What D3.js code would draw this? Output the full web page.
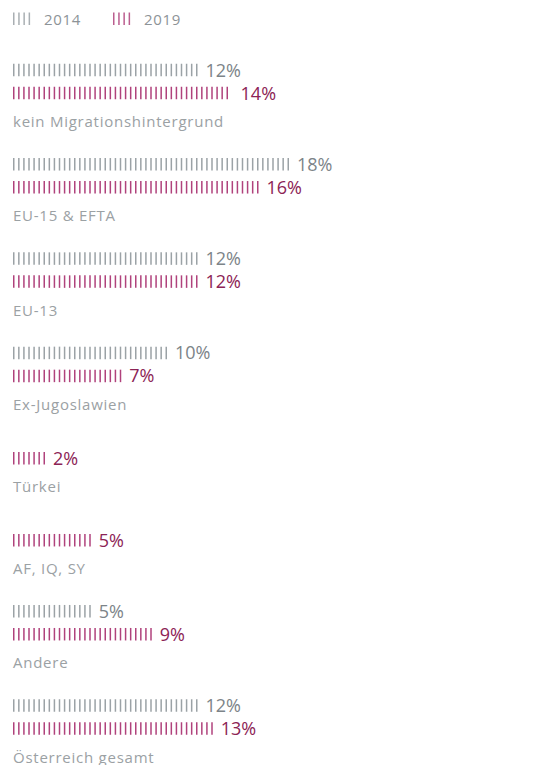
<!DOCTYPE html>
<html>
<head>
<meta charset="utf-8">
<script src="https://cdn.jsdelivr.net/npm/d3@7"></script>
<style>
  html, body { margin: 0; padding: 0; background: #ffffff; }
  svg { display: block; }
  text { font-family: "Open Sans", "DejaVu Sans", sans-serif; }
</style>
</head>
<body>
<div id="chart"></div>
<script>
// ---- data ----
const categories = [
  "kein Migrationshintergrund",
  "EU-15 & EFTA",
  "EU-13",
  "Ex-Jugoslawien",
  "Türkei",
  "AF, IQ, SY",
  "Andere",
  "Österreich gesamt"
];
const seriesNames = ["2014", "2019"];
const values2014 = [12, 18, 12, 10, null, null, 5, 12];
const values2019 = [14.3, 16, 12, 7, 2, 5, 9, 13];

// ---- style ----
const W = 535, H = 765;
const colors = { "2014": "#9ba2a6", "2019": "#b0427c" };
const labelColors = { "2014": "#7c8488", "2019": "#8c2355" };
const catColor = "#9ba1a4";

const svg = d3.select("#chart").append("svg")
  .attr("width", W).attr("height", H)
  .attr("viewBox", `0 0 ${W} ${H}`);

// x scale: percent -> px
const x = d3.scaleLinear().domain([0, 20]).range([13, 13 + 305]);
const tickStep = 1 / 3;   // one stroke per third of a percent
const tickH = 12.5, tickW = 1.5;

// ---- legend ----
const legend = svg.append("g").attr("class", "legend");
const legendX = [13, 113];
seriesNames.forEach((s, i) => {
  const g = legend.append("g").attr("transform", `translate(${legendX[i]},0)`);
  g.selectAll("line").data(d3.range(4)).join("line")
    .attr("x1", d => d * 5.2 + 0.75).attr("x2", d => d * 5.2 + 0.75)
    .attr("y1", 12.5).attr("y2", 25)
    .attr("stroke", colors[s]).attr("stroke-width", tickW).attr("opacity", 0.85);
  g.append("text").attr("x", 31).attr("y", 24.5)
    .attr("font-size", 15).attr("letter-spacing", 0.7)
    .attr("fill", "#8d9397").text(s);
});

// ---- layout of groups ----
const rowsData = categories.map((c, i) => {
  const rows = [];
  if (values2014[i] != null) rows.push({ series: "2014", value: values2014[i] });
  if (values2019[i] != null) rows.push({ series: "2019", value: values2019[i] });
  return { category: c, rows };
});
const rowGap = 23, labelGap = 29;
let yCursor = 70;
rowsData.forEach(g => {
  const n = g.rows.length;
  const offset = (2 - n) * 11;
  g.rows.forEach((r, j) => { r.y = yCursor + offset + j * rowGap; });
  g.labelY = g.rows[n - 1].y + labelGap;
  yCursor += n === 2 ? 94.3 : 82;
});

const fmt = v => d3.format(".0f")(v) + "%";

const groups = svg.selectAll("g.group").data(rowsData).join("g").attr("class", "group");

const rows = groups.selectAll("g.row").data(d => d.rows).join("g").attr("class", "row");

rows.selectAll("line").data(r => d3.range(0, r.value + 1e-6, tickStep).map(t => ({ t, r })))
  .join("line")
  .attr("x1", d => x(d.t) + 0.75).attr("x2", d => x(d.t) + 0.75)
  .attr("y1", d => d.r.y - tickH / 2).attr("y2", d => d.r.y + tickH / 2)
  .attr("stroke", d => colors[d.r.series])
  .attr("stroke-width", tickW);

rows.append("text")
  .attr("x", r => x(r.value) + 9.5)
  .attr("y", r => r.y + 6.5)
  .attr("font-size", 18)
  .attr("fill", r => labelColors[r.series])
  .text(r => fmt(r.value));

groups.append("text")
  .attr("x", 13)
  .attr("y", d => d.labelY + 5)
  .attr("font-size", 15)
  .attr("letter-spacing", 0.75)
  .attr("fill", catColor)
  .text(d => d.category);
</script>
</body>
</html>
